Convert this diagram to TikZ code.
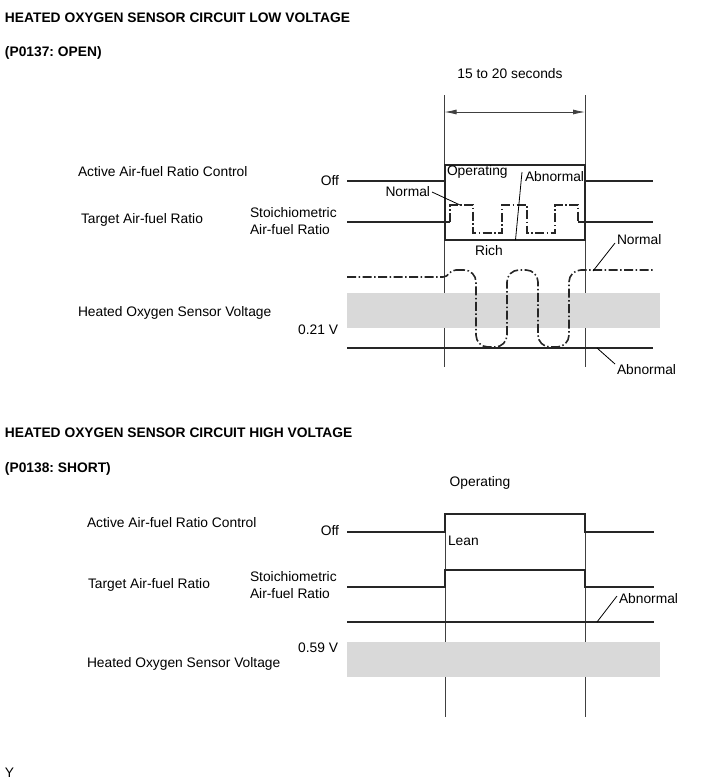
\documentclass[tikz,border=0pt]{standalone}
\usepackage{fontspec}
\setmainfont{Liberation Sans}
\usetikzlibrary{arrows.meta}
\frenchspacing
\begin{document}
\begin{tikzpicture}[x=1pt,y=-1pt,
  every node/.style={inner sep=0pt,outer sep=0pt,font=\fontsize{13.8}{16}\selectfont},
  lbl/.style={anchor=west},
  lblr/.style={anchor=east},
  ttl/.style={anchor=west,font=\fontsize{13.8}{16}\selectfont\bfseries},
  sig/.style={line width=1.8pt,black!85},
  guide/.style={line width=0.8pt,black!75},
  dashdot/.style={line width=1.6pt,black!85,dash pattern=on 9pt off 2.5pt on 1.5pt off 2.5pt},
  leader/.style={line width=0.8pt,black},
  band/.style={fill=black!15,draw=none}]
\useasboundingbox (0,0) rectangle (713,782);

% ---------------- Chart 1 ----------------
\node[ttl] (t1) at (5,18) {HEATED OXYGEN SENSOR CIRCUIT LOW VOLTAGE};
\node[ttl] (c1) at (5,53) {(P0137: OPEN)};

\node (dur) at (510,74) {15 to 20 seconds};
\coordinate (g1t) at (444.5,95);
\coordinate (g1b) at (444.5,367);
\coordinate (g2t) at (585,95);
\coordinate (g2b) at (585,367);
\draw[guide] (g1t) -- (g1b);
\draw[guide] (g2t) -- (g2b);
\coordinate (a1) at (444.5,112);
\coordinate (a2) at (585,112);
\draw[guide,{Latex[length=12pt,width=5pt]}-{Latex[length=12pt,width=5pt]}] (a1) -- (a2);

\node[lbl] (aac1) at (78,172) {Active Air-fuel Ratio Control};
\node[lbl] (taf1) at (81,220) {Target Air-fuel Ratio};
\node[lbl] (hos1) at (78,313) {Heated Oxygen Sensor Voltage};
\node[lblr] (off1) at (339,181) {Off};
\node[lbl] (st1a) at (250,213) {Stoichiometric};
\node[lbl] (st1b) at (250,230) {Air-fuel Ratio};
\node[lblr] (v021) at (338,330) {0.21 V};

% Active control
\draw[sig] (347,181) -- (445,181) -- (445,165) -- (585,165) -- (585,181) -- (653,181);
\draw[sig] (445,165) rectangle (585,240);
\node[lbl] (op1) at (447,172) {Operating};
\node (rich) at (489,251) {Rich};

% Target A/F
\draw[sig] (347,222) -- (450,222);
\draw[sig] (578,222) -- (653,222);
\draw[dashdot] (450,222) -- (450,205) -- (473,205) -- (473,233) -- (502,233) -- (502,205)
  -- (527,205) -- (527,233) -- (555,233) -- (555,205) -- (578,205) -- (578,222);

\node[lblr] (nrm1) at (430,192) {Normal};
\coordinate (nrm1e) at (460,205);
\draw[leader] (nrm1.east) ++(2,0) -- (nrm1e);
\node[lbl] (abn1) at (525,177) {Abnormal};
\coordinate (abn1s) at (522,172);
\coordinate (abn1e) at (515.5,240);
\draw[leader] (abn1s) -- (abn1e);

% Voltage
\draw[band] (347,293) rectangle (660,328);
\draw[dashdot] (347,277) -- (443,277) .. controls (449,277) and (449,270) .. (456,270);
\draw[dashdot,rounded corners=12pt] (456,270) -- (476,270) -- (476,347)
  -- (507,347) -- (507,270) -- (538,270) -- (538,347) -- (569,347) -- (569,270) -- (653,270);
\draw[sig] (347,348) -- (653,348);

\node[lbl] (nrm2) at (617,240) {Normal};
\coordinate (nrm2e) at (593,271);
\draw[leader] (nrm2.west) ++(-2,3) -- (nrm2e);
\node[lbl] (abn2) at (617,370) {Abnormal};
\coordinate (abn2e) at (597,348);
\draw[leader] (abn2.west) ++(-2,-6) -- (abn2e);

% ---------------- Chart 2 ----------------
\node[ttl] (t2) at (5,433) {HEATED OXYGEN SENSOR CIRCUIT HIGH VOLTAGE};
\node[ttl] (c2) at (5,469) {(P0138: SHORT)};

\node (op2) at (480,483) {Operating};
\draw[guide] (445,514) -- (445,717);
\draw[guide] (585,514) -- (585,717);

\node[lbl] (aac2) at (87,523) {Active Air-fuel Ratio Control};
\node[lbl] (taf2) at (88,585) {Target Air-fuel Ratio};
\node[lbl] (hos2) at (87,664) {Heated Oxygen Sensor Voltage};
\node[lblr] (off2) at (339,531) {Off};
\node[lbl] (st2a) at (250,577) {Stoichiometric};
\node[lbl] (st2b) at (250,594) {Air-fuel Ratio};
\node[lblr] (v059) at (338,648) {0.59 V};

\draw[sig] (347,532) -- (445,532) -- (445,514) -- (585,514) -- (585,532) -- (654,532);
\node[lbl] (lean) at (448,541) {Lean};
\draw[sig] (347,587) -- (445,587) -- (445,570) -- (585,570) -- (585,587) -- (654,587);
\draw[sig] (347,622) -- (654,622);
\node[lbl] (abn3) at (619,599) {Abnormal};
\coordinate (abn3e) at (597,622);
\draw[leader] (abn3.west) ++(-2,-3) -- (abn3e);

\draw[band] (347,642) rectangle (660,677);

\node[lbl] (yy) at (5,773) {Y};
\end{tikzpicture}
\end{document}
